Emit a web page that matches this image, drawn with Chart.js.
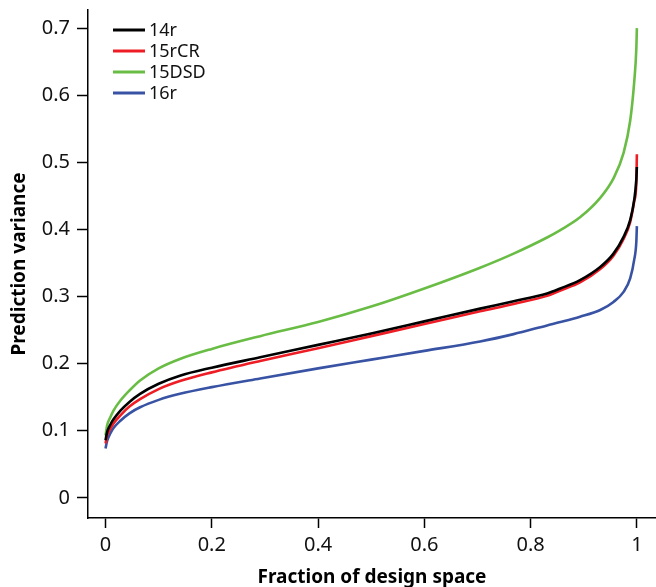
<!DOCTYPE html>
<html>
<head>
<meta charset="utf-8">
<script src="https://cdn.jsdelivr.net/npm/chart.js@4"></script>
<style>
  html, body { margin: 0; padding: 0; background: #fff; }
  #wrap { width: 656px; height: 587px; }
</style>
</head>
<body>
<div id="wrap"><canvas id="fdsChart" width="656" height="587"></canvas></div>
<script>
// fraction of design space (x) and prediction variance per design
var fraction = [0, 0.003, 0.009, 0.015, 0.028, 0.045, 0.065, 0.1, 0.14, 0.2, 0.291, 0.4, 0.5, 0.6, 0.705, 0.768, 0.831, 0.856, 0.893, 0.931, 0.956, 0.975, 0.9874, 0.995, 0.999, 1.0];
var v14r    = [0.086, 0.098, 0.109, 0.117, 0.130, 0.143, 0.155, 0.170, 0.182, 0.194, 0.2095, 0.228, 0.245, 0.263, 0.282, 0.293, 0.3046, 0.312, 0.3244, 0.344, 0.364, 0.389, 0.414, 0.444, 0.475, 0.493];
var v15rCR  = [0.081, 0.093, 0.103, 0.111, 0.123, 0.136, 0.147, 0.162, 0.174, 0.187, 0.204, 0.223, 0.241, 0.259, 0.278, 0.289, 0.301, 0.309, 0.321, 0.341, 0.361, 0.386, 0.411, 0.442, 0.470, 0.512];
var v15DSD  = [0.093, 0.108, 0.120, 0.130, 0.145, 0.160, 0.175, 0.193, 0.207, 0.222, 0.241, 0.262, 0.285, 0.312, 0.343, 0.364, 0.388, 0.399, 0.418, 0.447, 0.476, 0.514, 0.562, 0.620, 0.670, 0.700];
var v16r    = [0.0736, 0.085, 0.096, 0.104, 0.115, 0.126, 0.135, 0.146, 0.155, 0.165, 0.178, 0.193, 0.206, 0.219, 0.233, 0.244, 0.257, 0.262, 0.270, 0.280, 0.292, 0.307, 0.327, 0.355, 0.382, 0.405];

var seriesNames = ['14r', '15rCR', '15DSD', '16r'];
var xTicks = [0, 0.2, 0.4, 0.6, 0.8, 1];
var yTicks = [0, 0.1, 0.2, 0.3, 0.4, 0.5, 0.6, 0.7];

var colors = ['#000000', '#ee1d25', '#69bd45', '#3953a4'];
var FONT = '"Noto Sans", "Open Sans", sans-serif';

function points(ys) {
    return fraction.map(function(x, i) { return { x: x, y: ys[i] }; });
}

function fmt(v) {
    return String(Math.round(v * 10) / 10);
}

// legend drawn inside the plot, top left
var innerLegend = {
    id: 'innerLegend',
    afterDraw: function(chart) {
        var ctx = chart.ctx;
        ctx.save();
        ctx.font = '18px ' + FONT;
        ctx.textBaseline = 'middle';
        chart.data.datasets.forEach(function(ds, i) {
            var y = 30 + i * 21;
            ctx.strokeStyle = ds.borderColor;
            ctx.lineWidth = 3;
            ctx.beginPath();
            ctx.moveTo(113, y);
            ctx.lineTo(145, y);
            ctx.stroke();
            ctx.fillStyle = '#111';
            ctx.fillText(ds.label, 149, y + 1);
        });
        ctx.restore();
    }
};

var datasets = [v14r, v15rCR, v15DSD, v16r].map(function(vals, i) {
    return {
        label: seriesNames[i],
        data: points(vals),
        borderColor: colors[i],
        borderWidth: 2.6,
        pointRadius: 0,
        fill: false,
        cubicInterpolationMode: 'monotone'
    };
});

new Chart(document.getElementById('fdsChart').getContext('2d'), {
    type: 'line',
    data: { datasets: datasets },
    options: {
        responsive: false,
        animation: false,
        layout: { padding: { top: 10, right: 0, left: 0, bottom: 0 } },
        plugins: {
            legend: { display: false },
            tooltip: { enabled: false }
        },
        scales: {
            x: {
                type: 'linear',
                min: -0.033,
                max: 1.036,
                afterBuildTicks: function(scale) {
                    scale.ticks = xTicks.map(function(v) { return { value: v }; });
                },
                afterFit: function(scale) {
                    scale.height = 69;
                    scale.paddingLeft = 0;
                    scale.paddingRight = 0;
                },
                grid: { drawOnChartArea: false, drawTicks: true, tickLength: 10, tickColor: '#000', tickWidth: 1.5 },
                border: { color: '#000', width: 1.5 },
                ticks: { color: '#111', font: { family: FONT, size: 20 }, padding: 5, maxRotation: 0, callback: fmt },
                title: {
                    display: true,
                    text: 'Fraction of design space',
                    color: '#000',
                    font: { family: FONT, size: 19, weight: 'bold' },
                    padding: { top: 0, bottom: -2 }
                }
            },
            y: {
                type: 'linear',
                min: -0.03,
                max: 0.727,
                afterBuildTicks: function(scale) {
                    scale.ticks = yTicks.map(function(v) { return { value: v }; });
                },
                afterFit: function(scale) {
                    scale.width = 88;
                    scale.paddingTop = 0;
                    scale.paddingBottom = 0;
                },
                grid: { drawOnChartArea: false, drawTicks: true, tickLength: 11, tickColor: '#000', tickWidth: 1.5 },
                border: { color: '#000', width: 1.5 },
                ticks: { color: '#111', font: { family: FONT, size: 20 }, padding: 7, callback: fmt },
                title: {
                    display: true,
                    text: 'Prediction variance',
                    color: '#000',
                    font: { family: FONT, size: 19, weight: 'bold' },
                    padding: { top: 8, bottom: 0 }
                }
            }
        }
    },
    plugins: [innerLegend]
});
</script>
</body>
</html>
